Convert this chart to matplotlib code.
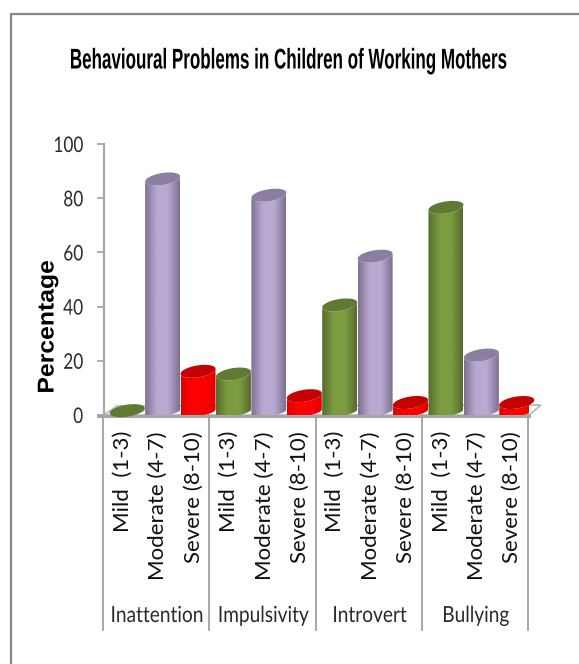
import numpy as np
import matplotlib
matplotlib.use('Agg')
import matplotlib.pyplot as plt
from matplotlib.colors import LinearSegmentedColormap
from matplotlib.patches import Polygon
from matplotlib.patheffects import AbstractPathEffect
from matplotlib.transforms import Affine2D

plt.rcParams['font.family'] = ['Lato', 'DejaVu Sans']

groups = ['Inattention', 'Impulsivity', 'Introvert', 'Bullying']
levels = ['Mild  (1-3)', 'Moderate (4-7)', 'Severe (8-10)']
mild = [0.5, 14, 39.5, 75.5]
moderate = [86, 80, 57.5, 21]
severe = [15, 6, 3.5, 3.5]
yticks = [0, 20, 40, 60, 80, 100]
title = 'Behavioural Problems in Children of Working Mothers'


# narrows text along its baseline, no condensed fonts are installed
class Squeeze(AbstractPathEffect):
    def __init__(self, sx, anchor=0.5, sy=1.0):
        super().__init__()
        self.sx = sx
        self.sy = sy
        self.anchor = anchor

    def draw_path(self, renderer, gc, tpath, affine, rgbFace=None):
        ext = tpath.get_extents()
        a = ext.x0 + self.anchor * ext.width
        local = Affine2D().translate(-a, 0).scale(self.sx, self.sy).translate(a, 0)
        renderer.draw_path(gc, tpath, local + affine, rgbFace)


W, H = 579, 664
fig = plt.figure(figsize=(W / 100, H / 100), dpi=100)
fig.patch.set_facecolor('white')

# everything decorative goes on a pixel canvas
bg = fig.add_axes([0, 0, 1, 1])
bg.set_xlim(0, W)
bg.set_ylim(H, 0)
bg.axis('off')
bg.plot([11, 11, 579], [664, 14, 14], color='#868686', lw=1.6)

# main axes: x is the bar index, y the percentage
left, right, y0, y100 = 104, 529, 415, 144
ax = fig.add_axes([left / W, 1 - y0 / H, (right - left) / W, (y0 - y100) / H])
ax.patch.set_alpha(0)
for s in ['top', 'right', 'bottom']:
    ax.spines[s].set_visible(False)
ax.spines['left'].set_color('#a8a8a8')
ax.spines['left'].set_linewidth(1.6)
ax.set_xticks([])
ax.set_yticks(yticks)
ax.tick_params(axis='y', length=5, width=1.2, color='#a0a0a0', labelsize=15.5, labelcolor='#2a2a2a', pad=10)

# floor of the 3D box
bg.add_patch(Polygon([(104, 415), (117, 406), (541, 405), (529, 415)], fc='white', ec='#b5b5b5', lw=1.2))
bg.plot([98, 529], [415.5, 415.5], color='#a6a6a6', lw=2.2)

# cylinder shading
def shade(edge, mid):
    return LinearSegmentedColormap.from_list('c', [edge, mid, mid, edge])

styles = [
    (shade('#566b2c', '#7d9c40'), '#607a33'),
    (shade('#7d7092', '#b9a9d1'), '#8b7fa0'),
    (shade('#e00000', '#ff0000'), '#c40000'),
]

unit_px = (right - left) / 12
ppu = (y0 - y100) / 100
dx = 5.5 / unit_px     # bars sit a little back in the box
dy = 3 / ppu
half = 17.5 / unit_px
ry = 6 / ppu           # ellipse height
tilt = 2.5 / ppu

t = np.linspace(0, 2 * np.pi, 80)
grad = np.linspace(0, 1, 128).reshape(1, -1)


def cylinder(xc, value, style):
    cmap, top_c = style
    b = dy
    v = value + dy
    ex = xc + half * np.cos(t)
    # ellipse tilts up to the right, seen slightly from above
    ey = ry * np.sin(t) + tilt * np.cos(t)
    low = t[t >= np.pi]
    hi = low[::-1]
    pts = list(zip(xc + half * np.cos(low), b + 0.7 * ry * np.sin(low) + tilt * np.cos(low)))
    pts += list(zip(xc + half * np.cos(hi), v + ry * np.sin(hi) + tilt * np.cos(hi)))
    im = ax.imshow(grad, extent=[xc - half, xc + half, -5, v + 5], aspect='auto', cmap=cmap, zorder=3)
    im.set_clip_path(Polygon(pts, transform=ax.transData))
    ax.fill(ex, v + ey, color=top_c, lw=0, zorder=4, clip_on=False)


for i in range(len(groups)):
    for j, vals in enumerate([mild, moderate, severe]):
        cylinder(i * 3 + j + 0.5 + dx, vals[i], styles[j])
ax.set_xlim(0, 12)
ax.set_ylim(0, 100)
for lab in ax.get_yticklabels():
    lab.set_path_effects([Squeeze(0.8, 1)])

# category axis, two levels
for i in range(len(groups) + 1):
    bg.plot([left - 1 + i * 3 * unit_px] * 2, [415, 630], color='#a0a0a0', lw=1.3)
for i, g in enumerate(groups):
    bg.text(left + (i * 3 + 1.5) * unit_px, 616, g, ha='center', va='center', fontsize=16, color='#2a2a2a',
            path_effects=[Squeeze(0.86)])
    for j, lv in enumerate(levels):
        bg.text(left + 1 + (i * 3 + j + 0.5) * unit_px, 431, lv, rotation=90, ha='center', va='top',
                fontsize=16, color='#111111')

bg.text(47, 327, 'Percentage', rotation=90, ha='center', va='center', fontsize=16.5, fontweight='bold',
        family=['Liberation Sans'], color='black', path_effects=[Squeeze(1.08)])
bg.text(289, 63, title, ha='center', va='center', fontsize=15.8, fontweight='bold', family=['Liberation Sans'],
        color='black', path_effects=[Squeeze(0.775, sy=1.3)])

fig.savefig('out.png', dpi=100)
